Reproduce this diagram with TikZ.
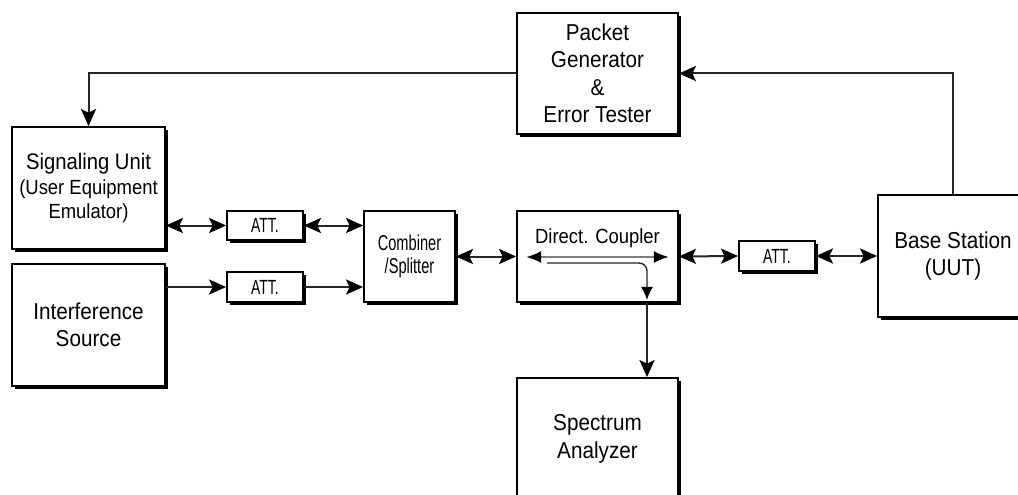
\documentclass[tikz,border=0pt]{standalone}
\usepackage{fontspec}
\setmainfont{Liberation Sans}[FakeStretch=0.9]
\newfontfamily\narrowfont{Liberation Sans}[FakeStretch=0.68]
\usepackage{tikz}
\usetikzlibrary{arrows.meta,calc,shadows}
\tikzset{
>={Stealth[length=17pt,width=15pt,inset=3.5pt,color=black]},
unit/.style={draw,fill=white,line width=1.8pt,inner sep=0pt,align=center,
  drop shadow={shadow xshift=3pt,shadow yshift=-3pt,fill=black,opacity=1}},
big unit/.style={unit,minimum width=161pt,minimum height=122pt,font=\fontsize{23}{27.5}\selectfont},
att/.style={unit,minimum width=76pt,minimum height=30pt,font=\narrowfont\fontsize{20.5}{22}\selectfont},
link/.style={line width=2pt,draw=black!85},
coupled/.style={line width=2.2pt,draw=black!50,{Latex[length=15pt,width=12pt,color=black]}-{Latex[length=15pt,width=12pt,color=black]}},
tapline/.style={line width=1.4pt,draw=black!85,rounded corners=8pt,-{Latex[length=13pt,width=12pt,color=black]}}}

\begin{document}
\begin{tikzpicture}[x=1pt,y=-1pt]

\clip (0,0) rectangle (1018,495);

\node (pkt) [big unit,minimum height=121pt] at (597.5,73.5) {Packet\\Generator\\\&\\Error Tester};
\node (sig) [big unit,minimum width=153pt,font=\fontsize{20.5}{24.5}\selectfont] at (88.5,188) {{\fontsize{22.5}{24.5}\selectfont Signaling Unit}\\(User Equipment\\Emulator)};
\node (intf) [big unit,minimum width=153pt] at (88.5,325) {Interference\\Source};
\node (attA) [att,minimum height=29pt] at (265,225.5) {ATT.};
\node (attB) [att] at (265,287) {ATT.};
\node (comb) [unit,minimum width=91pt,minimum height=91pt,font=\narrowfont\fontsize{21.5}{23.5}\selectfont] at (409.5,256.5) {Combiner\\/Splitter};
\node (dc) [unit,minimum width=161pt,minimum height=91pt] at (597.5,256.5) {};
\node (dclbl) [anchor=base,font=\fontsize{20.5}{24}\selectfont] at (597.5,243) {Direct. Coupler};
\node (attC) [att] at (777,256) {ATT.};
\node (bs) [big unit,minimum width=150pt] at (953,256) {Base Station\\(UUT)};
\node (sa) [big unit] at (597.5,439) {Spectrum\\Analyzer};

\coordinate (tap) at ($(dc.west)+(31,6.5)$);
\coordinate (port) at ($(dc.south)+(49.5,0)$);

\draw[link,->] (pkt.west) -| (sig.north);
\draw[link,->] (bs.north) |- (pkt.east);
\draw[link,<->] (attA.west -| sig.east) -- (attA.west);
\draw[link,<->] (attA.east) -- (attA.east -| comb.west);
\draw[link,->] (attB.west -| intf.east) -- (attB.west);
\draw[link,->] (attB.east) -- (attB.east -| comb.west);
\draw[link,<->] (comb.east) -- (dc.west);
\draw[link,<->] (dc.east) -- (attC.west);
\draw[link,<->] (attC.east) -- (attC.east -| bs.west);
\draw[coupled] ($(dc.west)+(10,0.5)$) -- ($(dc.east)+(-10,0.5)$);
\draw[tapline] (tap) -| ($(port)+(0,-3)$);
\draw[link,->] (port) -- (port |- sa.north);

\end{tikzpicture}
\end{document}
